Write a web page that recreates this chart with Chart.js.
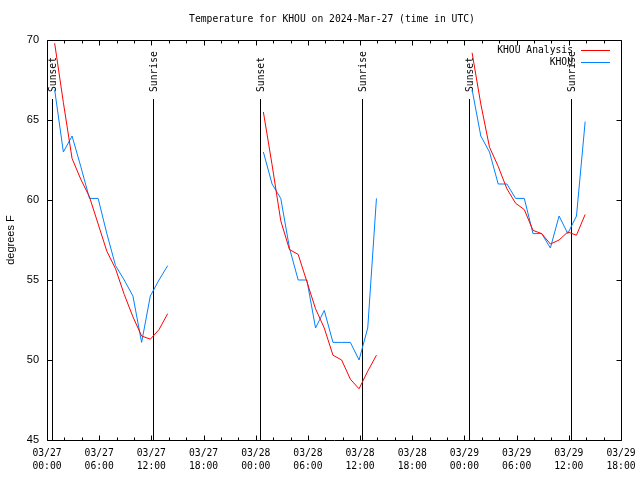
<!DOCTYPE html>
<html><head><meta charset="utf-8">
<script src="https://cdn.jsdelivr.net/npm/chart.js@4/dist/chart.umd.min.js"></script>
<style>html,body{margin:0;padding:0;background:#fff;}canvas{display:block;}</style>
</head><body>
<canvas id="c" width="640" height="480"></canvas>
<script>
// Observation times: hours after the start of each day (obs at hh:53 UTC)
const obsHours = [0.88, 1.88, 2.88, 3.88, 4.88, 5.88, 6.88, 7.88, 8.88, 9.88, 10.88, 11.88, 12.88, 13.88];
const dayStarts = [0, 24, 48];

// KHOU Analysis (red), degrees F
const analysisMar27 = [69.8, 66.1, 62.6, 61.3, 60.2, 58.5, 56.8, 55.7, 54.1, 52.7, 51.5, 51.3, 51.9, 52.9];
const analysisMar28 = [65.5, 62.2, 58.7, 56.9, 56.6, 54.9, 53.2, 52.0, 50.3, 50.0, 48.8, 48.2, 49.3, 50.3];
const analysisMar29 = [69.2, 66.0, 63.3, 62.1, 60.7, 59.8, 59.4, 58.1, 57.9, 57.25, 57.5, 58.0, 57.8, 59.1];

// KHOU observations (blue), degrees F
const khouMar27 = [66.9, 63.0, 64.0, 62.1, 60.1, 60.1, 57.9, 55.9, 55.0, 54.0, 51.1, 54.0, 55.0, 55.9];
const khouMar28 = [63.0, 61.0, 60.1, 57.0, 55.0, 55.0, 52.0, 53.1, 51.1, 51.1, 51.1, 50.0, 52.0, 60.1];
const khouMar29 = [66.9, 64.0, 63.0, 61.0, 61.0, 60.1, 60.1, 57.9, 57.9, 57.0, 59.0, 57.9, 59.0, 64.9];

// Sun events, hours since 03/27 00:00 UTC
const sunsetHours = [0.54, 24.53, 48.56];
const sunriseHours = [12.22, 36.26, 60.29];

// X tick labels (every 6 h from 03/27 00:00)
const tickHours = [0, 6, 12, 18, 24, 30, 36, 42, 48, 54, 60, 66];
const tickDates = ["03/27","03/27","03/27","03/27","03/28","03/28","03/28","03/28","03/29","03/29","03/29","03/29"];
const tickTimes = ["00:00","06:00","12:00","18:00","00:00","06:00","12:00","18:00","00:00","06:00","12:00","18:00"];

const titleText = "Temperature for KHOU on 2024-Mar-27 (time in UTC)";
const yTitle = "degrees F";
const seriesNames = ["KHOU Analysis", "KHOU"];
const seriesColors = ["#ff0000", "#0080ff"];

function buildPoints(days) {
  const pts = [];
  days.forEach((vals, d) => {
    vals.forEach((v, i) => pts.push({x: dayStarts[d] + obsHours[i], y: v}));
    if (d < days.length - 1) pts.push({x: dayStarts[d] + 18, y: null});
  });
  return pts;
}

const MONO = '9.7px "DejaVu Sans Mono", "Liberation Mono", monospace';
const SANS = '11px "Liberation Sans", Arial, sans-serif';

const decor = {
  id: 'decor',
  beforeDatasetsDraw(chart) {
    const {ctx, chartArea: a, scales: {x}} = chart;
    const topY = a.top + (a.bottom - a.top) * 0.1475;
    ctx.save();
    ctx.strokeStyle = '#000'; ctx.fillStyle = '#000'; ctx.lineWidth = 1;
    const drawSun = (hrs, label) => hrs.forEach(h => {
      const px = Math.round(x.getPixelForValue(h)) + 0.5;
      ctx.beginPath(); ctx.moveTo(px, Math.round(topY)); ctx.lineTo(px, a.bottom); ctx.stroke();
      ctx.save();
      ctx.translate(px + 0.5, Math.round(topY) - 7);
      ctx.rotate(-Math.PI / 2);
      ctx.font = MONO; ctx.textAlign = 'left'; ctx.textBaseline = 'middle';
      ctx.fillText(label, 0, 0);
      ctx.restore();
    });
    drawSun(sunsetHours, 'Sunset');
    drawSun(sunriseHours, 'Sunrise');
    ctx.restore();
  },
  afterDraw(chart) {
    const {ctx, chartArea: a, scales: {x, y}} = chart;
    ctx.save();
    ctx.strokeStyle = '#000'; ctx.fillStyle = '#000'; ctx.lineWidth = 1;
    const L = Math.round(a.left) + 0.5, R = Math.round(a.right) + 0.5;
    const T = Math.round(a.top) + 0.5, B = Math.round(a.bottom) + 0.5;
    ctx.beginPath();
    ctx.rect(L, T, R - L, B - T);
    // x ticks every 2 h, major every 6 h
    for (let h = 0; h <= 66; h += 2) {
      const px = Math.round(x.getPixelForValue(h)) + 0.5;
      const len = (h % 6 === 0) ? 5 : 3;
      ctx.moveTo(px, B); ctx.lineTo(px, B - len);
      ctx.moveTo(px, T); ctx.lineTo(px, T + len);
    }
    for (let v = 45; v <= 70; v += 5) {
      const py = Math.round(y.getPixelForValue(v)) + 0.5;
      ctx.moveTo(L, py); ctx.lineTo(L + 5, py);
      ctx.moveTo(R, py); ctx.lineTo(R - 5, py);
    }
    ctx.stroke();
    // x tick labels
    ctx.font = MONO; ctx.textAlign = 'center'; ctx.textBaseline = 'middle';
    tickHours.forEach((h, i) => {
      const px = x.getPixelForValue(h);
      ctx.fillText(tickDates[i], px, a.bottom + 13.5);
      ctx.fillText(tickTimes[i], px, a.bottom + 26.5);
    });
    // title
    ctx.fillText(titleText, (a.left + a.right) / 2 - 2, 19.5);
    // y title
    ctx.save();
    ctx.translate(11, (a.top + a.bottom) / 2);
    ctx.rotate(-Math.PI / 2);
    ctx.font = SANS; ctx.textAlign = 'center'; ctx.textBaseline = 'middle';
    ctx.fillText(yTitle, 0, 0);
    ctx.restore();
    // legend
    ctx.font = MONO; ctx.textAlign = 'right'; ctx.textBaseline = 'middle';
    seriesNames.forEach((n, i) => {
      const ly = 50 + i * 12;
      ctx.fillStyle = '#000';
      ctx.fillText(n, a.right - 48, ly);
      ctx.strokeStyle = seriesColors[i];
      ctx.beginPath(); ctx.moveTo(a.right - 40, ly + 0.5); ctx.lineTo(a.right - 11, ly + 0.5); ctx.stroke();
    });
    ctx.restore();
  }
};

new Chart(document.getElementById('c'), {
  type: 'line',
  data: {
    datasets: [
      {label: seriesNames[0], data: buildPoints([analysisMar27, analysisMar28, analysisMar29]),
       borderColor: seriesColors[0], borderWidth: 1, pointRadius: 0, tension: 0, spanGaps: false, fill: false},
      {label: seriesNames[1], data: buildPoints([khouMar27, khouMar28, khouMar29]),
       borderColor: seriesColors[1], borderWidth: 1, pointRadius: 0, tension: 0, spanGaps: false, fill: false}
    ]
  },
  options: {
    responsive: false,
    animation: false,
    events: [],
    layout: {padding: {top: 40, right: 19, left: 0, bottom: 0}},
    plugins: {legend: {display: false}, title: {display: false}, tooltip: {enabled: false}},
    scales: {
      x: {
        type: 'linear', min: 0, max: 66,
        afterFit: s => { s.height = 40; },
        grid: {display: false, drawTicks: false}, border: {display: false},
        ticks: {display: false, stepSize: 6}
      },
      y: {
        min: 45, max: 70,
        afterFit: s => { s.width = 47; },
        grid: {display: false, drawTicks: false}, border: {display: false},
        ticks: {stepSize: 5, padding: 8, color: '#000', font: {family: '"Liberation Sans", Arial, sans-serif', size: 11}}
      }
    }
  },
  plugins: [decor]
});
</script>
</body></html>
